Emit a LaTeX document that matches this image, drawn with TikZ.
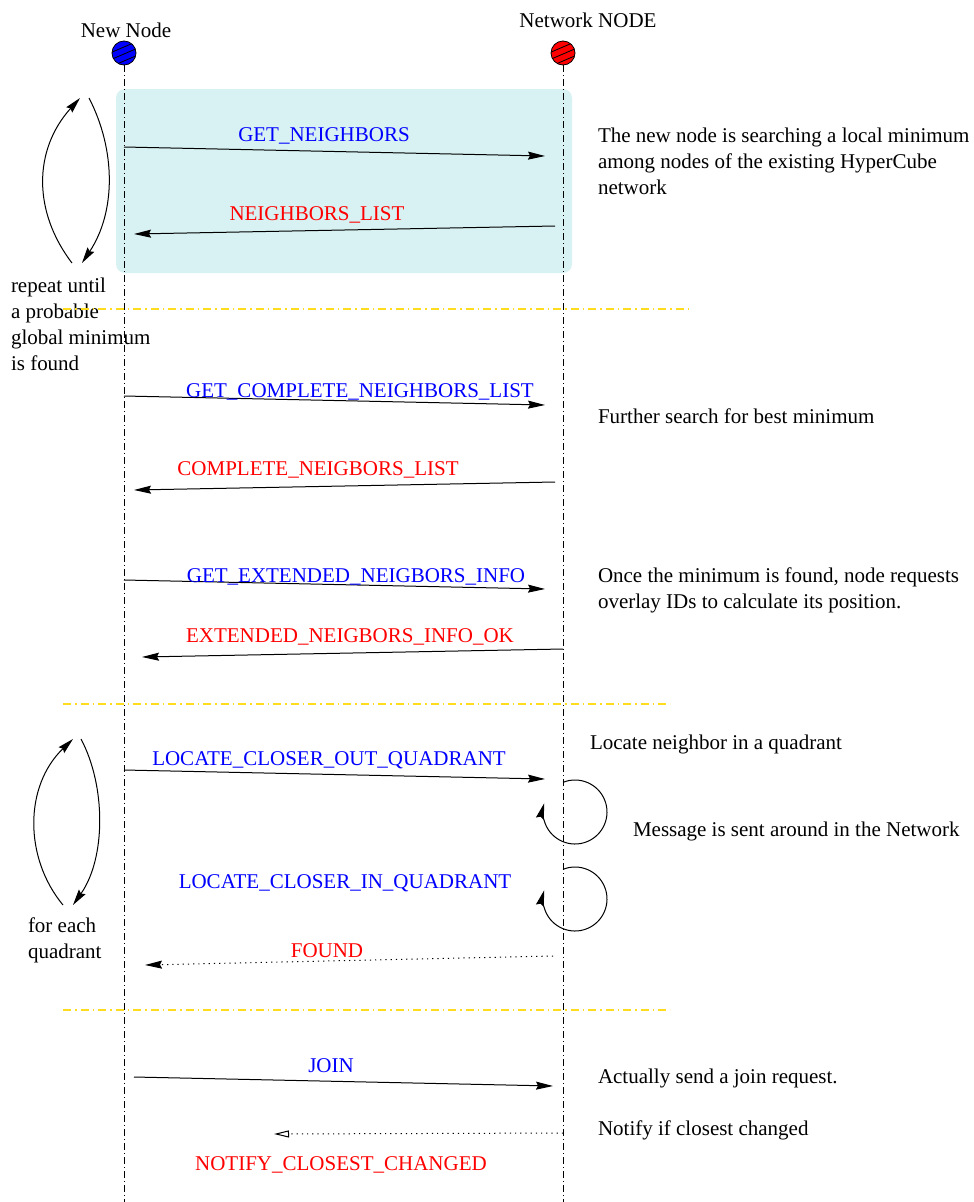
\documentclass[tikz,border=0pt]{standalone}
\usepackage{fontspec}
\setmainfont{Liberation Serif}
\usetikzlibrary{arrows.meta}
\definecolor{boxcyan}{RGB}{216,242,243}
\definecolor{sepyellow}{RGB}{255,220,30}
\definecolor{newblue}{RGB}{0,0,255}
\definecolor{netred}{RGB}{255,0,0}
\begin{document}
\begin{tikzpicture}[x=1pt,y=-1pt,
  every node/.style={font=\fontsize{21}{25}\selectfont, inner sep=0pt, outer sep=0pt},
  lbl/.style={anchor=base},
  note/.style={anchor=base west},
  req/.style={lbl, text=blue},
  ans/.style={lbl, text=red},
  msg/.style={line width=1pt, -{Stealth[length=17pt,width=8pt,inset=2pt]}},
  dotmsg/.style={msg, dash pattern=on 1.2pt off 4pt},
  opendot/.style={line width=1pt, dash pattern=on 1.2pt off 4pt, -{Triangle[open,length=15pt,width=7pt]}},
  lifeline/.style={line width=0.8pt, dash pattern=on 7pt off 3pt on 1pt off 3pt},
  separator/.style={draw=sepyellow, line width=1.2pt, dash pattern=on 8pt off 4pt on 1.5pt off 4pt},
  looparc/.style={line width=1pt, -{Stealth[length=16pt,width=8pt,inset=2pt]}}
]
\useasboundingbox (0,0) rectangle (974,1202);

% shaded block around the first exchange
\fill[boxcyan, rounded corners=9pt] (116,89) rectangle (572,273);

% participants
\coordinate (newc) at (124,53);
\coordinate (netc) at (563,53);
\node[lbl] (newlbl) at (126,37) {New Node};
\node[lbl] (netlbl) at (588,27) {Network NODE};

% lifelines
\coordinate (newtop) at (124,65);
\coordinate (newbot) at (124,1202);
\coordinate (nettop) at (563,65);
\coordinate (netbot) at (563,1202);
\draw[lifeline] (newtop) -- (newbot);
\draw[lifeline] (nettop) -- (netbot);

% hatched participant discs
\foreach \c/\col in {newc/newblue, netc/netred}{
  \fill[\col] (\c) circle[radius=12pt];
  \begin{scope}
    \clip (\c) circle[radius=12pt];
    \foreach \o in {-8,-1,6}{
      \draw[line width=0.8pt] ([shift={(-14pt,\o pt-6pt)}]\c) -- ([shift={(14pt,\o pt+6pt)}]\c);
    }
  \end{scope}
  \draw[line width=0.8pt] (\c) circle[radius=12pt];
}

% message end points
\coordinate (m1a) at (124,147);  \coordinate (m1b) at (545,156);
\coordinate (m2a) at (555,226);  \coordinate (m2b) at (134,234);
\coordinate (m3a) at (124,396);  \coordinate (m3b) at (545,405);
\coordinate (m4a) at (555,482);  \coordinate (m4b) at (134,490);
\coordinate (m5a) at (124,580);  \coordinate (m5b) at (545,589);
\coordinate (m6a) at (563,649);  \coordinate (m6b) at (142,657);
\coordinate (m7a) at (124,770);  \coordinate (m7b) at (545,779);
\coordinate (m8a) at (553,956);  \coordinate (m8b) at (145,965);
\coordinate (m9a) at (134,1077); \coordinate (m9b) at (553,1086);
\coordinate (m10a) at (563,1133); \coordinate (m10b) at (274,1134);

\draw[msg] (m1a) -- (m1b);
\draw[msg] (m2a) -- (m2b);
\draw[msg] (m3a) -- (m3b);
\draw[msg] (m4a) -- (m4b);
\draw[msg] (m5a) -- (m5b);
\draw[msg] (m6a) -- (m6b);
\draw[msg] (m7a) -- (m7b);
\draw[dotmsg] (m8a) -- (m8b);
\draw[msg] (m9a) -- (m9b);
\draw[opendot] (m10a) -- (m10b);

% message labels
\node[req] (t1) at (324,141) {GET\_NEIGHBORS};
\node[ans] (t2) at (317,220) {NEIGHBORS\_LIST};
\node[req] (t3) at (360,397) {GET\_COMPLETE\_NEIGHBORS\_LIST};
\node[ans] (t4) at (318,475) {COMPLETE\_NEIGBORS\_LIST};
\node[req] (t5) at (356,582) {GET\_EXTENDED\_NEIGBORS\_INFO};
\node[ans] (t6) at (350,642) {EXTENDED\_NEIGBORS\_INFO\_OK};
\node[req] (t7) at (329,765) {LOCATE\_CLOSER\_OUT\_QUADRANT};
\node[req] (t8) at (345,888) {LOCATE\_CLOSER\_IN\_QUADRANT};
\node[ans] (t9) at (327,957) {FOUND};
\node[req] (t10) at (331,1072) {JOIN};
\node[ans] (t11) at (341,1170) {NOTIFY\_CLOSEST\_CHANGED};

% self loops on the network lifeline
\coordinate (loop1) at (575,812);
\coordinate (loop2) at (575,899);
\draw[looparc] ([shift={(112:32pt)}]loop1) arc[start angle=112, end angle=-196, radius=32pt];
\draw[looparc] ([shift={(112:32pt)}]loop2) arc[start angle=112, end angle=-196, radius=32pt];

% repetition arrows on the left
\coordinate (ra1) at (72,263); \coordinate (ra2) at (80,98);
\coordinate (rb1) at (89,98);  \coordinate (rb2) at (82,263);
\draw[looparc] (ra1) .. controls (33,212) and (33,150) .. (ra2);
\draw[looparc] (rb1) .. controls (116,150) and (116,212) .. (rb2);
\coordinate (qa1) at (63,905); \coordinate (qa2) at (73,739);
\coordinate (qb1) at (81,739); \coordinate (qb2) at (73,905);
\draw[looparc] (qa1) .. controls (24,858) and (24,786) .. (qa2);
\draw[looparc] (qb1) .. controls (106,786) and (106,858) .. (qb2);

% left notes
\node[note] (r1) at (11,292) {repeat until};
\node[note] (r2) at (11,318) {a probable};
\node[note] (r3) at (11,344) {global minimum};
\node[note] (r4) at (11,370) {is found};
\node[note] (q1) at (28,932) {for each};
\node[note] (q2) at (28,958) {quadrant};

% right notes
\node[note] (n1) at (598,142) {The new node is searching a local minimum};
\node[note] (n2) at (598,168) {among nodes of the existing HyperCube};
\node[note] (n3) at (598,194) {network};
\node[note] (n4) at (598,423) {Further search for best minimum};
\node[note] (n5) at (598,582) {Once the minimum is found, node requests};
\node[note] (n6) at (598,608) {overlay IDs to calculate its position.};
\node[note] (n7) at (590,749) {Locate neighbor in a quadrant};
\node[note] (n8) at (633,836) {Message is sent around in the Network};
\node[note] (n9) at (598,1083) {Actually send a join request.};
\node[note] (n10) at (598,1135) {Notify if closest changed};

% section separators, drawn last so they cross the notes
\coordinate (s1a) at (63,309); \coordinate (s1b) at (688,309);
\coordinate (s2a) at (63,704);  \coordinate (s2b) at (670,704);
\coordinate (s3a) at (63,1010); \coordinate (s3b) at (670,1010);
\path[separator] (s1a) -- (s1b);
\path[separator] (s2a) -- (s2b);
\path[separator] (s3a) -- (s3b);
\end{tikzpicture}
\end{document}
